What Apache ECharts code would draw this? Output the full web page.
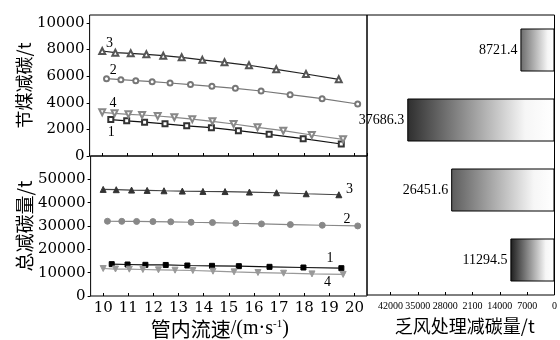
<!DOCTYPE html>
<html><head><meta charset="utf-8">
<script src="https://cdn.jsdelivr.net/npm/echarts@6/dist/echarts.min.js"></script>
<style>html,body{margin:0;padding:0;background:#fff}#c{width:560px;height:340px}</style>
</head><body><div id="c"></div><script>
// ---- data ----
const seriesNames = ['1', '2', '3', '4'];
// flow velocity (m/s) of each point
const velocity1 = [10.34, 10.97, 11.68, 12.49, 13.35, 14.33, 15.40, 16.62, 17.97, 19.48];
const velocity2 = [10.17, 10.74, 11.33, 11.98, 12.69, 13.50, 14.35, 15.28, 16.30, 17.45, 18.72, 20.13];
const velocity3 = [10.00, 10.52, 11.13, 11.75, 12.42, 13.15, 13.97, 14.85, 15.82, 16.90, 18.08, 19.38];
const velocity4 = [10.00, 10.49, 11.04, 11.58, 12.20, 12.86, 13.57, 14.37, 15.21, 16.16, 17.18, 18.31, 19.55];
// coal-saving carbon reduction (t)
const coal1 = [2740, 2645, 2540, 2420, 2270, 2128, 1902, 1632, 1301, 902];
const coal2 = [5812, 5737, 5662, 5586, 5489, 5370, 5241, 5090, 4887, 4609, 4308, 3910];
const coal3 = [7895, 7767, 7720, 7647, 7541, 7420, 7230, 7045, 6820, 6519, 6165, 5767];
const coal4 = [3286, 3211, 3135, 3083, 3008, 2910, 2770, 2609, 2406, 2158, 1902, 1579, 1255];
// total carbon reduction (t)
const total1 = [13650, 13500, 13360, 13300, 13070, 12930, 12790, 12500, 12210, 11920];
const total2 = [32040, 32000, 31950, 31900, 31800, 31600, 31470, 31180, 30900, 30600, 30320, 30030];
const total3 = [45690, 45560, 45400, 45260, 45100, 44960, 44830, 44760, 44540, 44250, 43820, 43390];
const total4 = [11780, 11560, 11490, 11350, 11210, 11060, 10920, 10630, 10340, 10060, 9770, 9480, 9250];
// ventilation-air treatment carbon reduction (t), top to bottom
const fanCategories = ['4', '3', '2', '1'];
const fanValues = [8721.4, 37686.3, 26451.6, 11294.5];
// tick labels
const xTickValues = [10, 11, 12, 13, 14, 15, 16, 17, 18, 19, 20];
const coalTickValues = [0, 2000, 4000, 6000, 8000, 10000];
const totalTickValues = [0, 10000, 20000, 30000, 40000, 50000];
const fanTickValues = [0, 7000, 14000, 21000, 28000, 35000, 42000];
const fanTickLabels = ['0', '7000', '14000', '2100', '28000', '35000', '42000'];
// data-space anchors of the curve number tags
const coalTagAnchors = [[10.36, 1800], [10.44, 6450], [10.29, 8480], [10.43, 3975]];
const totalTagAnchors = [[19.03, 16250], [19.70, 33060], [19.80, 45690], [18.93, 5730]];

// ---- chart ----
const zip = (xs, ys) => xs.map((x, i) => [x, ys[i]]);
const velocities = [velocity1, velocity2, velocity3, velocity4];
const coals = [coal1, coal2, coal3, coal4];
const totals = [total1, total2, total3, total4];

const serifDigits = { fontFamily: 'DejaVu Serif', fontSize: 15, color: '#000' };
const topStyles = [
  { line: '#111', edge: '#333', symbol: 'emptyRect', rotate: 0, size: 5 },
  { line: '#777', edge: '#777', symbol: 'emptyCircle', rotate: 0, size: 5 },
  { line: '#222', edge: '#555', symbol: 'emptyTriangle', rotate: 0, size: 6 },
  { line: '#888', edge: '#888', symbol: 'emptyTriangle', rotate: 180, size: 6 }
];
const botStyles = [
  { line: '#111', fill: '#000', symbol: 'rect', rotate: 0, size: 5 },
  { line: '#888', fill: '#888', symbol: 'circle', rotate: 0, size: 6 },
  { line: '#444', fill: '#333', symbol: 'triangle', rotate: 0, size: 6 },
  { line: '#999', fill: '#999', symbol: 'triangle', rotate: 180, size: 6 }
];
const tagLabel = (txt) => ({ show: true, position: 'inside', formatter: txt,
  fontFamily: 'Liberation Serif', fontSize: 14, color: '#000' });

const series = [];
for (let i = 0; i < 4; i++) {
  const s = topStyles[i];
  series.push({
    type: 'line', xAxisIndex: 0, yAxisIndex: 0, data: zip(velocities[i], coals[i]),
    symbol: s.symbol, symbolRotate: s.rotate, symbolSize: s.size, z: 3,
    lineStyle: { color: s.line, width: 1.2 },
    itemStyle: { color: s.edge, borderColor: s.edge, borderWidth: 1 },
    markPoint: { symbol: 'circle', symbolSize: 1, itemStyle: { color: 'rgba(0,0,0,0)' },
      data: [{ coord: coalTagAnchors[i], label: tagLabel(seriesNames[i]) }] },
    animation: false
  });
}
for (let i = 0; i < 4; i++) {
  const s = botStyles[i];
  series.push({
    type: 'line', xAxisIndex: 1, yAxisIndex: 1, data: zip(velocities[i], totals[i]),
    symbol: s.symbol, symbolRotate: s.rotate, symbolSize: s.size, z: 3,
    lineStyle: { color: s.line, width: 1.2 },
    itemStyle: { color: s.fill, borderColor: s.fill },
    markPoint: { symbol: 'circle', symbolSize: 1, itemStyle: { color: 'rgba(0,0,0,0)' },
      data: [{ coord: totalTagAnchors[i], label: tagLabel(seriesNames[i]) }] },
    animation: false
  });
}
const barLeftColors = ['#6a6a6a', '#2e2e2e', '#5c5c5c', '#1c1c1c'];
series.push({
  type: 'bar', xAxisIndex: 2, yAxisIndex: 2, barWidth: 43,
  data: fanValues.map((v, i) => ({
    value: v,
    itemStyle: {
      borderColor: '#000', borderWidth: 1,
      color: { type: 'linear', x: 0, y: 0, x2: 1, y2: 0,
        colorStops: [{ offset: 0, color: barLeftColors[i] }, { offset: 0.8, color: '#f6f6f6' }, { offset: 1, color: '#ffffff' }] }
    }
  })),
  label: { show: true, position: 'left', distance: 3, formatter: (p) => p.value.toFixed(1),
    fontFamily: 'Liberation Serif', fontSize: 14, color: '#000' },
  animation: false
});

const gridBase = { show: true, borderColor: '#000', borderWidth: 1, backgroundColor: 'transparent' };
const xCommon = { type: 'value', min: 9.5, max: 20.5, splitNumber: 11,
  axisLine: { show: false }, splitLine: { show: false },
  axisTick: { show: true, inside: true, length: 3, lineStyle: { color: '#000' } } };
const option = {
  animation: false,
  grid: [
    Object.assign({ left: 84, top: 15, width: 283, height: 141 }, gridBase),
    Object.assign({ left: 84, top: 156, width: 283, height: 140 }, gridBase),
    Object.assign({ left: 367, top: 15, width: 188, height: 282 }, gridBase)
  ],
  xAxis: [
    Object.assign({ gridIndex: 0, axisLabel: { show: false } }, xCommon),
    Object.assign({ gridIndex: 1,
      axisLabel: Object.assign({ margin: 5, showMinLabel: false, showMaxLabel: false,
        formatter: (v) => (xTickValues.includes(v) ? String(v) : '') }, serifDigits),
      name: '{c|管内流速}{l|/(m·s}{s|-1}{l|)}', nameLocation: 'middle', nameGap: 23,
      nameTextStyle: { padding: [0, 18, 0, 0], rich: {
        c: { fontFamily: 'Noto Sans CJK SC', fontSize: 20, color: '#000' },
        l: { fontFamily: 'Liberation Serif', fontSize: 20, color: '#000' },
        s: { fontFamily: 'Liberation Serif', fontSize: 11, color: '#000', verticalAlign: 'top', padding: [0, 0, 8, 0] } } } }, xCommon),
    { type: 'value', gridIndex: 2, inverse: true, min: 0, max: 48000, interval: 7000,
      axisLine: { show: false }, splitLine: { show: false },
      axisTick: { show: true, inside: true, length: 3, lineStyle: { color: '#000' } },
      axisLabel: { margin: 6, showMaxLabel: false, fontFamily: 'Liberation Serif', fontSize: 10, color: '#000',
        formatter: (v) => { const k = fanTickValues.indexOf(v); return k < 0 ? '' : fanTickLabels[k]; } },
      name: '乏风处理减碳量/t', nameLocation: 'middle', nameGap: 22,
      nameTextStyle: { fontFamily: 'Noto Sans CJK SC', fontSize: 18, color: '#000', padding: [0, 0, 0, 8] } }
  ],
  yAxis: [
    { type: 'value', gridIndex: 0, min: 0, max: 10600, interval: 2000,
      axisLine: { show: false }, splitLine: { show: false },
      axisTick: { show: true, inside: false, length: 3, lineStyle: { color: '#000' } },
      axisLabel: Object.assign({ margin: 5, showMaxLabel: false,
        formatter: (v) => (coalTickValues.includes(v) ? String(v) : '') }, serifDigits),
      name: '节煤减碳/t', nameLocation: 'middle', nameRotate: 90, nameGap: 54,
      nameTextStyle: { fontFamily: 'Noto Sans CJK SC', fontSize: 18, color: '#000' } },
    { type: 'value', gridIndex: 1, min: 0, max: 60000, interval: 10000,
      axisLine: { show: false }, splitLine: { show: false },
      axisTick: { show: true, inside: false, length: 3, lineStyle: { color: '#000' } },
      axisLabel: Object.assign({ margin: 5, showMaxLabel: false,
        formatter: (v) => (totalTickValues.includes(v) ? String(v) : '') }, serifDigits),
      name: '总减碳量/t', nameLocation: 'middle', nameRotate: 90, nameGap: 54,
      nameTextStyle: { fontFamily: 'Noto Sans CJK SC', fontSize: 19, color: '#000' } },
    { type: 'category', gridIndex: 2, inverse: true, data: fanCategories,
      axisLine: { show: false }, axisTick: { show: false }, axisLabel: { show: false } }
  ],
  series: series
};
const chart = echarts.init(document.getElementById('c'), null, { renderer: 'canvas' });
chart.setOption(option);
</script></body></html>
